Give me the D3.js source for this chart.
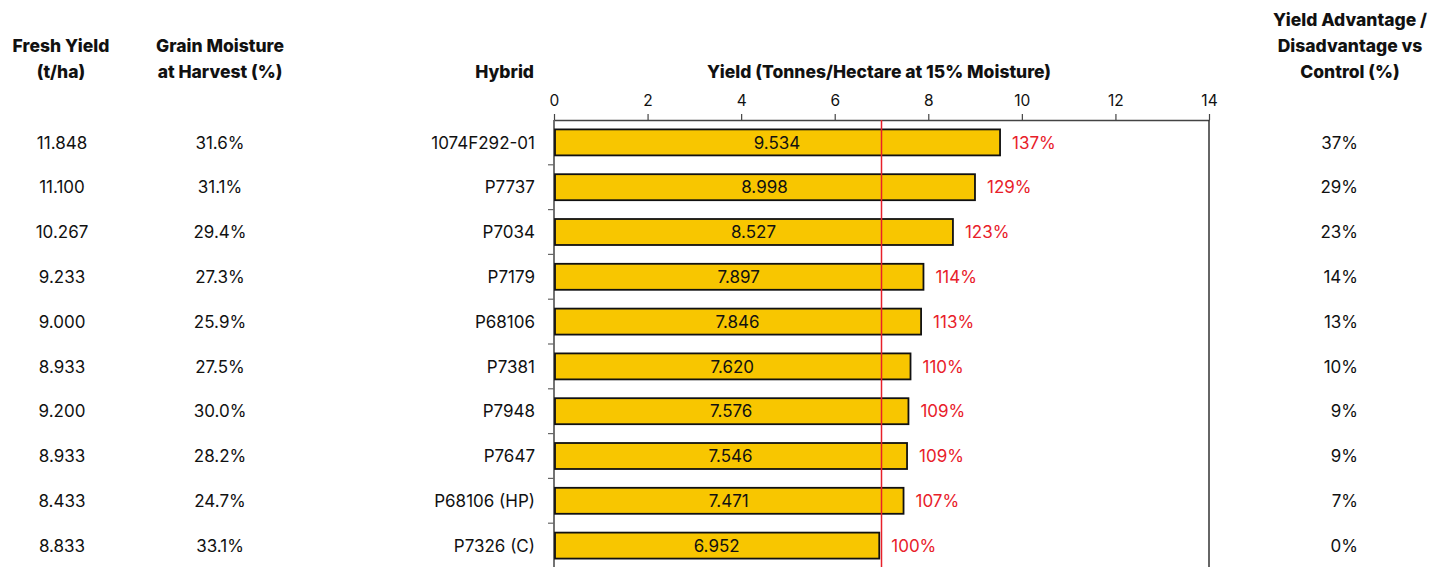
<!DOCTYPE html>
<html>
<head>
<meta charset="utf-8">
<script src="https://cdn.jsdelivr.net/npm/d3@7"></script>
<style>
  body { margin: 0; background: #fff; }
  svg { font-family: Inter, "Open Sans", sans-serif; }
</style>
</head>
<body>
<svg id="chart" width="1453" height="567"></svg>
<script>
// chart values
const hybrids = ['1074F292-01', 'P7737', 'P7034', 'P7179', 'P68106', 'P7381', 'P7948', 'P7647', 'P68106 (HP)', 'P7326 (C)'];
const yieldValues = [9.534, 8.998, 8.527, 7.897, 7.846, 7.620, 7.576, 7.546, 7.471, 6.952];
const freshYield = ['11.848', '11.100', '10.267', '9.233', '9.000', '8.933', '9.200', '8.933', '8.433', '8.833'];
const moisture = ['31.6%', '31.1%', '29.4%', '27.3%', '25.9%', '27.5%', '30.0%', '28.2%', '24.7%', '33.1%'];
const relControl = ['137%', '129%', '123%', '114%', '113%', '110%', '109%', '109%', '107%', '100%'];
const advantage = ['37%', '29%', '23%', '14%', '13%', '10%', '9%', '9%', '7%', '0%'];
const xTicks = [0, 2, 4, 6, 8, 10, 12, 14];
const controlLine = 7.0;

let svg = d3.select('#chart');

let x = d3.scaleLinear().domain([0, 14]).range([554, 1209]);
let y = d3.scaleBand().domain(hybrids).range([120, 568]).paddingInner(0.42).paddingOuter(0.21);
let band = d3.scaleBand().domain(hybrids).range([120, 568]);

// headers
const headers = [
  {lines: ['Fresh Yield', '(t/ha)'], x: 61, y: 52, anchor: 'middle'},
  {lines: ['Grain Moisture', 'at Harvest (%)'], x: 220, y: 52, anchor: 'middle'},
  {lines: ['Hybrid'], x: 534, y: 78, anchor: 'end'},
  {lines: ['Yield (Tonnes/Hectare at 15% Moisture)'], x: 879, y: 78, anchor: 'middle'},
  {lines: ['Yield Advantage /', 'Disadvantage vs', 'Control (%)'], x: 1350, y: 26, anchor: 'middle'}
];
headers.forEach(h => {
  let t = svg.append('text')
    .attr('x', h.x).attr('y', h.y)
    .attr('text-anchor', h.anchor)
    .style('font-weight', 800).style('font-size', '17.5px').style('fill', '#111');
  h.lines.forEach((l, i) => t.append('tspan').attr('x', h.x).attr('dy', i ? 26 : 0).text(l));
});

// top axis
let axis = svg.append('g')
  .attr('transform', 'translate(0,120)')
  .call(d3.axisTop(x).tickValues(xTicks).tickSize(6).tickSizeOuter(0));
axis.select('.domain').attr('stroke', '#444').attr('stroke-width', 1.5);
axis.selectAll('.tick line').attr('stroke', '#444').attr('stroke-width', 1.2).attr('y2', -6);
axis.selectAll('.tick text')
  .attr('y', -14)
  .style('font-family', 'Inter, sans-serif').style('font-size', '15.5px').style('fill', '#111');

// left axis
let left = svg.append('g')
  .attr('transform', 'translate(554,0)');
left.append('line').attr('y1', 120).attr('y2', 567).attr('stroke', '#444').attr('stroke-width', 1.5);
left.selectAll('.sep')
  .data(hybrids.slice(1))
  .enter().append('line')
  .attr('x1', -6).attr('x2', 0)
  .attr('y1', d => band(d)).attr('y2', d => band(d))
  .attr('stroke', '#666').attr('stroke-width', 1.2);

// right border
svg.append('line')
  .attr('x1', x(14)).attr('x2', x(14))
  .attr('y1', 120).attr('y2', 567)
  .attr('stroke', '#333').attr('stroke-width', 1.5);

// bars
svg.selectAll('.bar')
  .data(hybrids)
  .enter().append('rect')
  .attr('class', 'bar')
  .attr('x', x(0) + 1)
  .attr('y', d => y(d))
  .attr('width', (d, i) => x(yieldValues[i]) - x(0) - 1)
  .attr('height', y.bandwidth())
  .attr('fill', '#f8c600')
  .attr('stroke', '#111')
  .attr('stroke-width', 1.8);

// control line
svg.append('line')
  .attr('x1', x(controlLine)).attr('x2', x(controlLine))
  .attr('y1', 120).attr('y2', 567)
  .attr('stroke', '#e8202a').attr('stroke-width', 1.5);

const rowText = (arr, xp, anchor, color) => {
  svg.append('g').selectAll('text')
    .data(arr)
    .enter().append('text')
    .attr('x', xp)
    .attr('y', (d, i) => band(hybrids[i]) + band.bandwidth() / 2)
    .attr('dy', '0.36em')
    .attr('text-anchor', anchor)
    .style('font-size', '17px')
    .style('fill', color)
    .text(d => d);
};

rowText(freshYield, 62, 'middle', '#111');
rowText(moisture, 220, 'middle', '#111');
rowText(hybrids, 535, 'end', '#111');
rowText(yieldValues.map(v => v.toFixed(3)), (d, i) => (x(0) + x(yieldValues[i])) / 2, 'middle', '#111');
rowText(relControl, (d, i) => x(yieldValues[i]) + 12, 'start', '#e8202a');
rowText(advantage, 1358, 'end', '#111');
</script>
</body>
</html>
